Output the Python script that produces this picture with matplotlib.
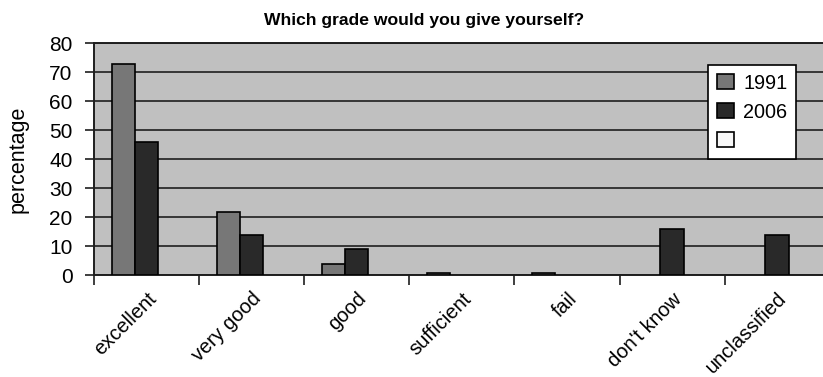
import numpy as np
import matplotlib
matplotlib.use("Agg")
import matplotlib.pyplot as plt
from matplotlib.ticker import FixedLocator, NullFormatter
from matplotlib.transforms import ScaledTranslation

plt.rcParams['font.family'] = ['Liberation Sans', 'DejaVu Sans']

categories = ["excellent", "very good", "good", "sufficient", "fail",
              "don't know", "unclassified"]
values_1991 = [73, 22, 4, 0.7, 0.7, np.nan, np.nan]
values_2006 = [46, 14, 9, np.nan, np.nan, 16, 14]
values_third = [np.nan] * 7
series_labels = ["1991", "2006", ""]
y_ticks = [0, 10, 20, 30, 40, 50, 60, 70, 80]

fig = plt.figure(figsize=(8.23, 3.77), dpi=100)
fig.patch.set_facecolor("white")
ax = fig.add_axes([94 / 823, 1 - 275.3 / 377, 735.7 / 823, 232 / 377])
ax.set_facecolor("#c0c0c0")

x = np.arange(len(categories))
w = 1 / 4.5
colors = ["#777777", "#292929", "#f7f7f7"]
containers = []
for i, (vals, col, lab) in enumerate(zip([values_1991, values_2006, values_third],
                                         colors, series_labels)):
    c = ax.bar(x + (i - 1) * w, vals, width=w, color=col, edgecolor="black",
               linewidth=1.2, zorder=3, label=lab)
    containers.append(c)

ax.set_xlim(-0.5, len(categories) - 0.5)
ax.set_ylim(0, 80)
ax.set_yticks(y_ticks)
ax.yaxis.grid(True, color="#1e1e1e", linewidth=1.2, zorder=1)
ax.set_axisbelow(True)

ax.set_xticks(x)
ax.set_xticklabels(categories, rotation=45, ha="right", va="top",
                   rotation_mode="anchor", fontsize=14.5)
shift = ScaledTranslation(-5 / 100, 0, fig.dpi_scale_trans)
for lbl in ax.get_xticklabels():
    lbl.set_transform(lbl.get_transform() + shift)
ax.tick_params(axis="x", which="major", length=0, pad=10)
ax.xaxis.set_minor_locator(FixedLocator(np.arange(-0.5, len(categories), 1.0)))
ax.xaxis.set_minor_formatter(NullFormatter())
ax.tick_params(axis="x", which="minor", length=7, width=1.2, color="#1e1e1e")
ax.tick_params(axis="y", length=6.5, width=1.2, color="#1e1e1e", labelsize=15, pad=9)

for side in ["left", "bottom", "top"]:
    ax.spines[side].set_color("#1e1e1e")
    ax.spines[side].set_linewidth(1.4)
ax.spines["right"].set_visible(False)

ax.set_ylabel("percentage", fontsize=15.5, labelpad=15)
fig.text(424.5 / 823, 1 - 20 / 377, "Which grade would you give yourself?",
         ha="center", va="center", fontsize=12.6, fontweight="bold")

leg = fig.legend(handles=containers, labels=series_labels, loc="upper left",
                 bbox_to_anchor=(708.3 / 823, 1 - 64.7 / 377),
                 bbox_transform=fig.transFigure, borderaxespad=0,
                 fontsize=14.3, frameon=True, fancybox=False, framealpha=1,
                 edgecolor="black", handlelength=0.85, handleheight=0.8,
                 handletextpad=0.45, labelspacing=0.5, borderpad=0.45)
leg.get_frame().set_linewidth(1.2)

fig.savefig("out.png", dpi=100)
